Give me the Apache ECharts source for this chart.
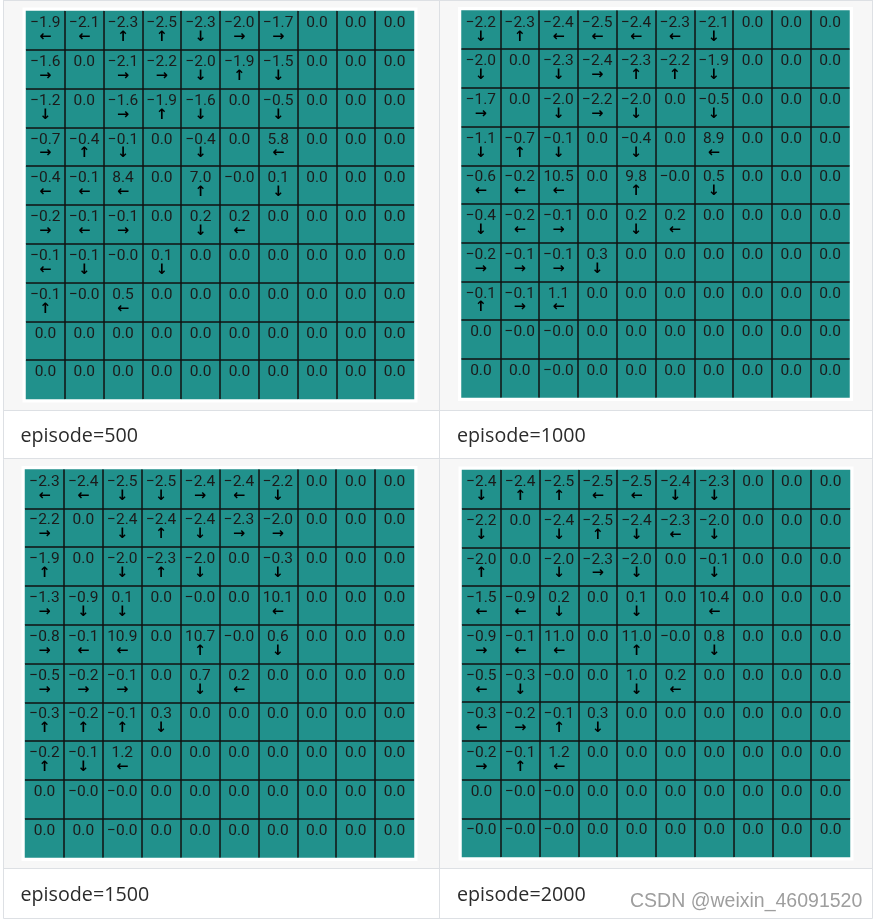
<!DOCTYPE html>
<html>
<head>
<meta charset="utf-8">
<script src="https://cdn.jsdelivr.net/npm/echarts@6/dist/echarts.min.js"></script>
<style>
html,body{margin:0;padding:0;background:#fff;}
#c{width:877px;height:921px;}
</style>
</head>
<body>
<div id="c"></div>
<script>
// ---- data ----
const episodes = ['episode=500', 'episode=1000', 'episode=1500', 'episode=2000'];
const columns = [0, 1, 2, 3, 4, 5, 6, 7, 8, 9];
const rows = [0, 1, 2, 3, 4, 5, 6, 7, 8, 9];

const values500 = [
  [-1.9, -2.1, -2.3, -2.5, -2.3, -2.0, -1.7, 0.0, 0.0, 0.0],
  [-1.6, 0.0, -2.1, -2.2, -2.0, -1.9, -1.5, 0.0, 0.0, 0.0],
  [-1.2, 0.0, -1.6, -1.9, -1.6, 0.0, -0.5, 0.0, 0.0, 0.0],
  [-0.7, -0.4, -0.1, 0.0, -0.4, 0.0, 5.8, 0.0, 0.0, 0.0],
  [-0.4, -0.1, 8.4, 0.0, 7.0, -0.0, 0.1, 0.0, 0.0, 0.0],
  [-0.2, -0.1, -0.1, 0.0, 0.2, 0.2, 0.0, 0.0, 0.0, 0.0],
  [-0.1, -0.1, -0.0, 0.1, 0.0, 0.0, 0.0, 0.0, 0.0, 0.0],
  [-0.1, -0.0, 0.5, 0.0, 0.0, 0.0, 0.0, 0.0, 0.0, 0.0],
  [0.0, 0.0, 0.0, 0.0, 0.0, 0.0, 0.0, 0.0, 0.0, 0.0],
  [0.0, 0.0, 0.0, 0.0, 0.0, 0.0, 0.0, 0.0, 0.0, 0.0]
];
const arrows500 = [
  'LLUUDRR...',
  'R.RRDUD...',
  'D.RUD.D...',
  'RUD.D.L...',
  'LLL.U.D...',
  'RLR.DL....',
  'LD.D......',
  'U.L.......',
  '..........',
  '..........'
];

const values1000 = [
  [-2.2, -2.3, -2.4, -2.5, -2.4, -2.3, -2.1, 0.0, 0.0, 0.0],
  [-2.0, 0.0, -2.3, -2.4, -2.3, -2.2, -1.9, 0.0, 0.0, 0.0],
  [-1.7, 0.0, -2.0, -2.2, -2.0, 0.0, -0.5, 0.0, 0.0, 0.0],
  [-1.1, -0.7, -0.1, 0.0, -0.4, 0.0, 8.9, 0.0, 0.0, 0.0],
  [-0.6, -0.2, 10.5, 0.0, 9.8, -0.0, 0.5, 0.0, 0.0, 0.0],
  [-0.4, -0.2, -0.1, 0.0, 0.2, 0.2, 0.0, 0.0, 0.0, 0.0],
  [-0.2, -0.1, -0.1, 0.3, 0.0, 0.0, 0.0, 0.0, 0.0, 0.0],
  [-0.1, -0.1, 1.1, 0.0, 0.0, 0.0, 0.0, 0.0, 0.0, 0.0],
  [0.0, -0.0, -0.0, 0.0, 0.0, 0.0, 0.0, 0.0, 0.0, 0.0],
  [0.0, 0.0, -0.0, 0.0, 0.0, 0.0, 0.0, 0.0, 0.0, 0.0]
];
const arrows1000 = [
  'DULLLLD...',
  'D.DRUUD...',
  'R.DRD.D...',
  'DUD.D.L...',
  'LLL.U.D...',
  'DLR.DL....',
  'RRRD......',
  'URL.......',
  '..........',
  '..........'
];

const values1500 = [
  [-2.3, -2.4, -2.5, -2.5, -2.4, -2.4, -2.2, 0.0, 0.0, 0.0],
  [-2.2, 0.0, -2.4, -2.4, -2.4, -2.3, -2.0, 0.0, 0.0, 0.0],
  [-1.9, 0.0, -2.0, -2.3, -2.0, 0.0, -0.3, 0.0, 0.0, 0.0],
  [-1.3, -0.9, 0.1, 0.0, -0.0, 0.0, 10.1, 0.0, 0.0, 0.0],
  [-0.8, -0.1, 10.9, 0.0, 10.7, -0.0, 0.6, 0.0, 0.0, 0.0],
  [-0.5, -0.2, -0.1, 0.0, 0.7, 0.2, 0.0, 0.0, 0.0, 0.0],
  [-0.3, -0.2, -0.1, 0.3, 0.0, 0.0, 0.0, 0.0, 0.0, 0.0],
  [-0.2, -0.1, 1.2, 0.0, 0.0, 0.0, 0.0, 0.0, 0.0, 0.0],
  [0.0, -0.0, -0.0, 0.0, 0.0, 0.0, 0.0, 0.0, 0.0, 0.0],
  [0.0, 0.0, -0.0, 0.0, 0.0, 0.0, 0.0, 0.0, 0.0, 0.0]
];
const arrows1500 = [
  'LLDDRLD...',
  'R.DUDRR...',
  'U.DUD.D...',
  'RDD...L...',
  'RLL.U.D...',
  'RRR.DL....',
  'UUUD......',
  'UDL.......',
  '..........',
  '..........'
];

const values2000 = [
  [-2.4, -2.4, -2.5, -2.5, -2.5, -2.4, -2.3, 0.0, 0.0, 0.0],
  [-2.2, 0.0, -2.4, -2.5, -2.4, -2.3, -2.0, 0.0, 0.0, 0.0],
  [-2.0, 0.0, -2.0, -2.3, -2.0, 0.0, -0.1, 0.0, 0.0, 0.0],
  [-1.5, -0.9, 0.2, 0.0, 0.1, 0.0, 10.4, 0.0, 0.0, 0.0],
  [-0.9, -0.1, 11.0, 0.0, 11.0, -0.0, 0.8, 0.0, 0.0, 0.0],
  [-0.5, -0.3, -0.0, 0.0, 1.0, 0.2, 0.0, 0.0, 0.0, 0.0],
  [-0.3, -0.2, -0.1, 0.3, 0.0, 0.0, 0.0, 0.0, 0.0, 0.0],
  [-0.2, -0.1, 1.2, 0.0, 0.0, 0.0, 0.0, 0.0, 0.0, 0.0],
  [0.0, -0.0, -0.0, 0.0, 0.0, 0.0, 0.0, 0.0, 0.0, 0.0],
  [-0.0, -0.0, -0.0, 0.0, 0.0, 0.0, 0.0, 0.0, 0.0, 0.0]
];
const arrows2000 = [
  'DUULLDD...',
  'D.DUDLD...',
  'U.DRD.D...',
  'LLD.D.L...',
  'RLL.U.D...',
  'LD..DL....',
  'LRUD......',
  'RUL.......',
  '..........',
  '..........'
];

const watermark = 'CSDN @weixin_46091520';

// ---- layout / style ----
const panels = [
  { label: episodes[0], values: values500, arrows: arrows500, box: { left: 26, top: 11, width: 388, height: 388 }, lx: 20.5, ly: 436 },
  { label: episodes[1], values: values1000, arrows: arrows1000, box: { left: 461.5, top: 10.5, width: 388, height: 387 }, lx: 457, ly: 436 },
  { label: episodes[2], values: values1500, arrows: arrows1500, box: { left: 25, top: 469.5, width: 389, height: 388 }, lx: 20.5, ly: 895.5 },
  { label: episodes[3], values: values2000, arrows: arrows2000, box: { left: 462, top: 470, width: 388, height: 387 }, lx: 457, ly: 895.5 }
];
const ARROW = { L: '\u2190', R: '\u2192', U: '\u2191', D: '\u2193' };
const CELL = '#21918c';
const GRIDLINE = '#111';
const BORDER = '#dde0e4';
const PANEL_BG = '#f7f7f7';

function fmt(v) {
  const neg = v < 0 || Object.is(v, -0);
  return (neg ? '\u2212' : '') + Math.abs(v).toFixed(1);
}

const grids = [], xAxes = [], yAxes = [], series = [];
const graphics = [
  { type: 'rect', z: -20, shape: { x: 0, y: 0, width: 877, height: 921 }, style: { fill: '#fff' } },
  { type: 'rect', z: -19, shape: { x: 4, y: 0, width: 869, height: 410 }, style: { fill: PANEL_BG } },
  { type: 'rect', z: -19, shape: { x: 4, y: 459, width: 869, height: 409 }, style: { fill: PANEL_BG } }
];
// table borders
[[3.5, 0, 3.5, 918.5], [439.5, 0, 439.5, 918.5], [872.5, 0, 872.5, 918.5],
 [3.5, 0.5, 872.5, 0.5], [3.5, 410.5, 872.5, 410.5], [3.5, 458.5, 872.5, 458.5],
 [3.5, 868.5, 872.5, 868.5], [3.5, 918.5, 872.5, 918.5]].forEach(function (l) {
  graphics.push({ type: 'line', z: -18, shape: { x1: l[0], y1: l[1], x2: l[2], y2: l[3] }, style: { stroke: BORDER, lineWidth: 1 } });
});

panels.forEach(function (p, i) {
  const b = p.box;
  graphics.push({ type: 'rect', z: -17, shape: { x: b.left - 3.5, y: b.top - 3.5, width: b.width + 7, height: b.height + 7 }, style: { fill: '#fff' } });
  graphics.push({
    type: 'text', z: -16, x: p.lx, y: p.ly,
    style: { text: p.label, font: '19.7px "Open Sans"', fill: '#2b2b2b', align: 'left', verticalAlign: 'middle', textAlign: 'left', textVerticalAlign: 'middle' }
  });

  grids.push({ left: b.left, top: b.top, width: b.width, height: b.height });
  const axisCommon = {
    type: 'category', gridIndex: i, z: 10,
    axisLine: { show: false }, axisTick: { show: false }, axisLabel: { show: false },
    splitLine: { show: true, showMinLine: false, showMaxLine: false, lineStyle: { color: GRIDLINE, width: 1.5 } }
  };
  xAxes.push(Object.assign({}, axisCommon, { data: columns }));
  yAxes.push(Object.assign({}, axisCommon, { data: rows, inverse: true }));

  const data = [];
  rows.forEach(function (r) {
    columns.forEach(function (c) {
      data.push([c, r, p.values[r][c]]);
    });
  });
  series.push({
    type: 'heatmap', xAxisIndex: i, yAxisIndex: i, data: data,
    itemStyle: { color: CELL },
    emphasis: { disabled: true },
    label: {
      show: true,
      position: ['50%', 5],
      align: 'center',
      verticalAlign: 'top',
      formatter: function (prm) {
        const c = prm.data[0], r = prm.data[1];
        const a = ARROW[p.arrows[r][c]];
        return '{v|' + fmt(p.values[r][c]) + '}' + (a ? '\n{a|' + a + '}' : '');
      },
      rich: {
        v: { fontFamily: 'Roboto', fontSize: 15.5, lineHeight: 15, color: '#1b1b1b', align: 'center' },
        a: { fontFamily: 'DejaVu Sans', fontWeight: 'bold', fontSize: 14.5, lineHeight: 13, color: '#000', align: 'center' }
      }
    }
  });
});

graphics.push({
  type: 'text', z: -16, x: 630, y: 902,
  style: { text: watermark, font: '19.5px "Liberation Sans"', fill: '#9e9e9e', align: 'left', verticalAlign: 'middle', textAlign: 'left', textVerticalAlign: 'middle' }
});

const chart = echarts.init(document.getElementById('c'), null, { renderer: 'canvas' });
chart.setOption({
  animation: false,
  graphic: { elements: graphics },
  grid: grids,
  xAxis: xAxes,
  yAxis: yAxes,
  series: series
});
</script>
</body>
</html>
